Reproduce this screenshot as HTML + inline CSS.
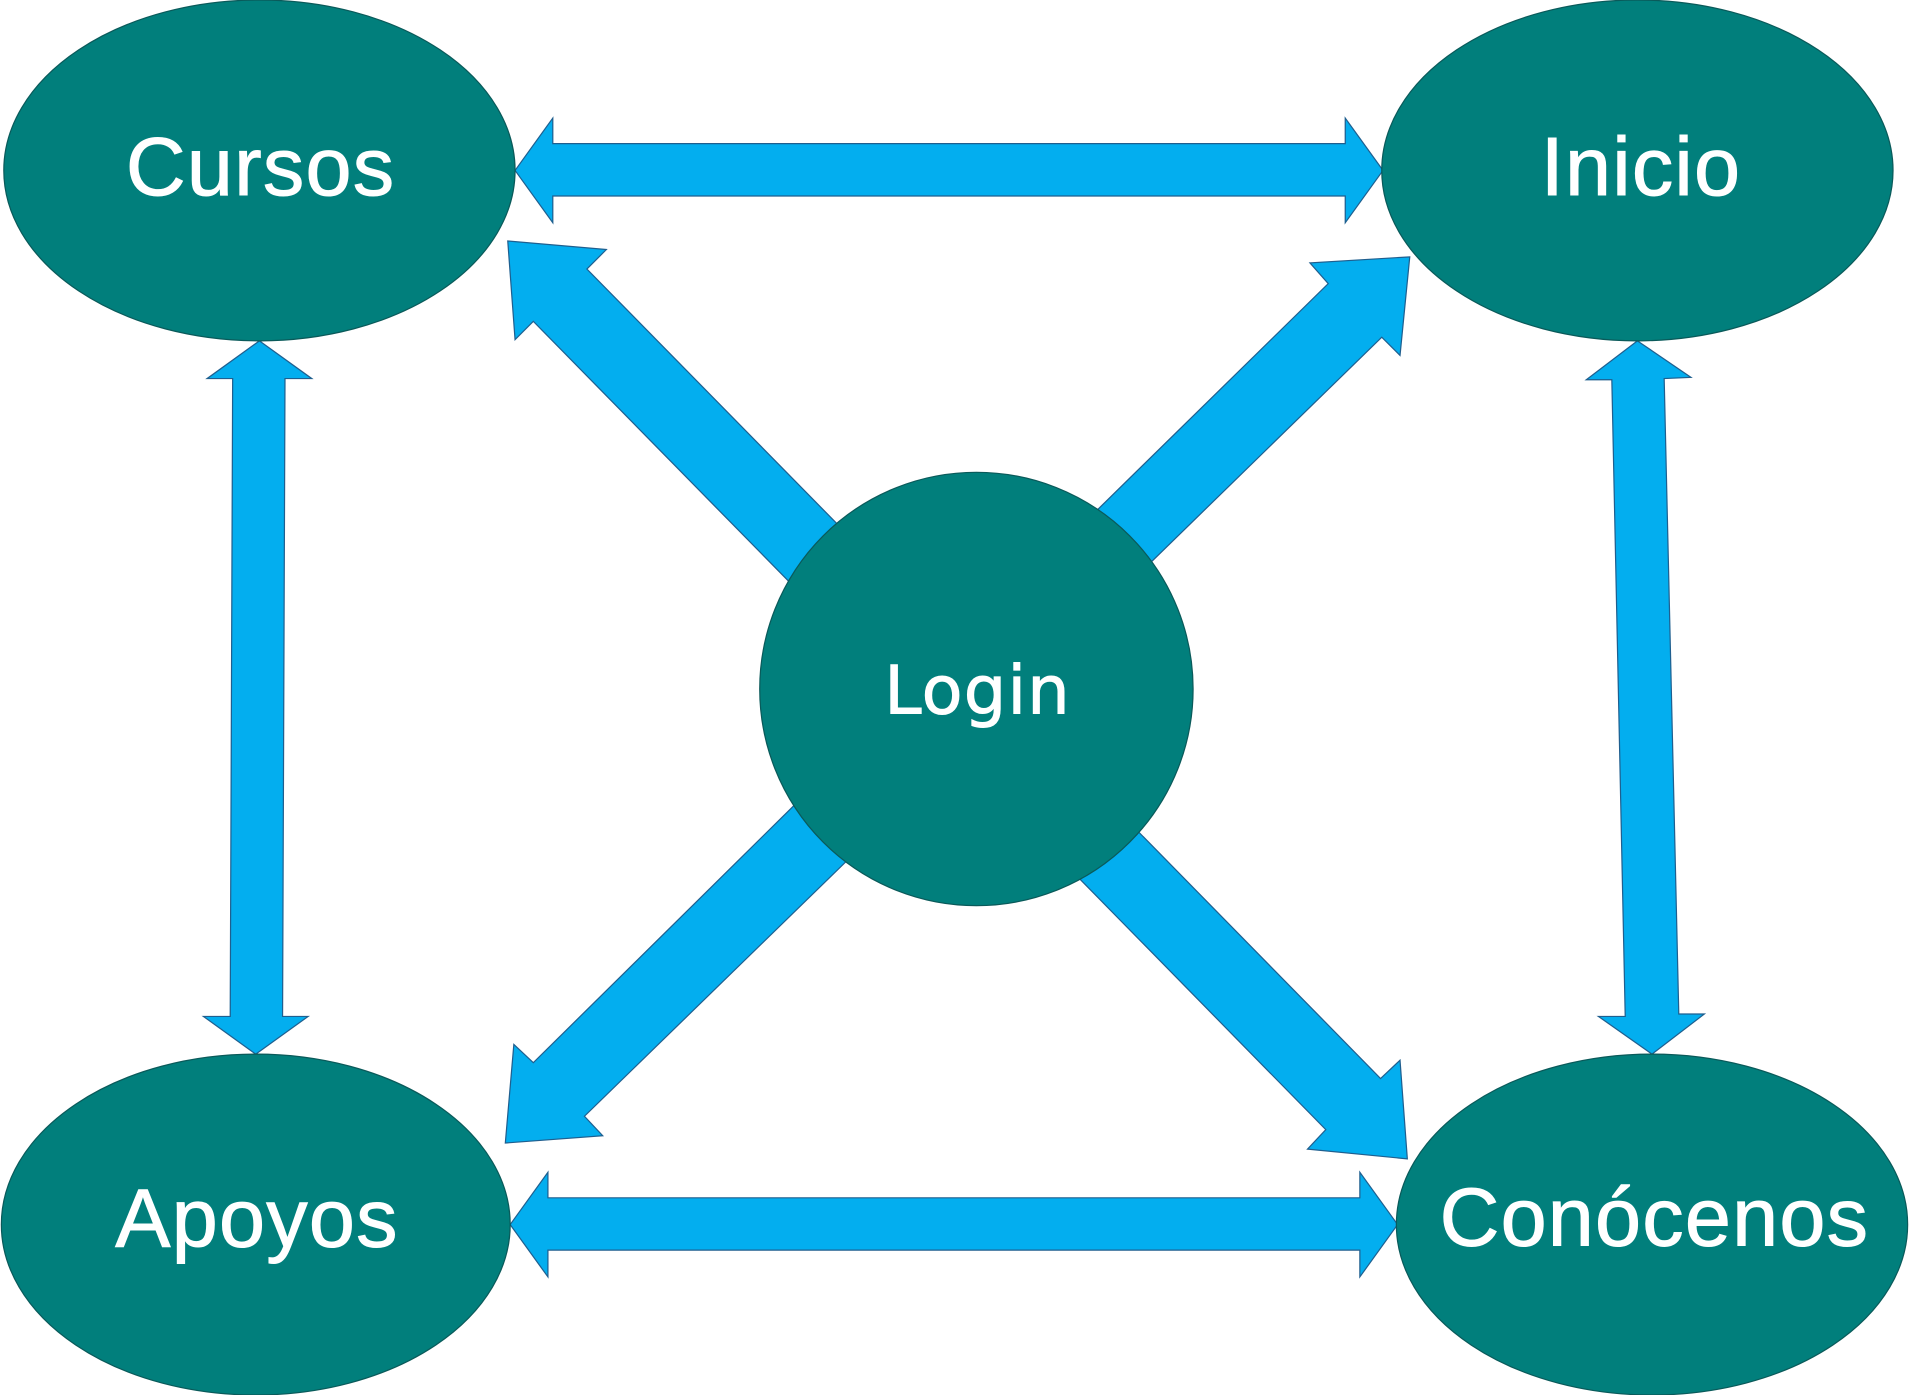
<!DOCTYPE html>
<html><head><meta charset="utf-8"><style>html,body{margin:0;padding:0;background:#fff}svg{display:block}</style></head><body>
<svg width="1909" height="1395" viewBox="0 0 1568 1146" xmlns="http://www.w3.org/2000/svg">
<g fill="#03AEEF" stroke="#1f5f8f" stroke-width="1">
<polygon points="423,140 454,97 454,118 1105,118 1105,97 1136,140 1105,183 1105,161 454,161 454,183"/>
<polygon points="419,1006 450,963 450,984 1117,984 1117,963 1148,1006 1117,1049 1117,1027 450,1027 450,1049"/>
<polygon points="213,280 256,311 234,311 232,835 253,835 210,866 167,835 189,835 191,311 170,311"/>
<polygon points="1345,280 1389,310 1367,311 1379,833 1400,833 1357,866 1313,835 1335,835 1324,312 1303,312"/>
<polygon points="417,198 498,205 482,221 700,443 660,490 438,264 423,279"/>
<polygon points="1158,211 1150,292 1135,277 935,472 890,430 1091,233 1076,216"/>
<polygon points="415,939 495,933 480,917 705,698 662,652 438,873 422,858"/>
<polygon points="1156,952 1074,944 1089,928 877,712 925,673 1134,886 1150,871"/>
</g>
<g fill="#017F7C" stroke="#0a5a5a" stroke-width="1">
<ellipse cx="213" cy="140" rx="210" ry="140"/>
<ellipse cx="1345" cy="140" rx="210" ry="140"/>
<ellipse cx="210" cy="1006" rx="209" ry="140"/>
<ellipse cx="1357" cy="1006" rx="210" ry="140"/>
<circle cx="802" cy="566" r="178"/>
</g>
<g fill="#fff" stroke="#fff" stroke-width="0.8" font-family="Liberation Sans, sans-serif" font-size="68" text-anchor="middle" letter-spacing="1">
<text x="214" y="160">Cursos</text>
<text x="1348" y="160">Inicio</text>
<text x="211" y="1024">Apoyos</text>
<text x="1359" y="1023">Conócenos</text>
<text x="803" y="586" font-family="DejaVu Sans, sans-serif" font-size="55" letter-spacing="1">Login</text>
</g>
</svg>
</body></html>
